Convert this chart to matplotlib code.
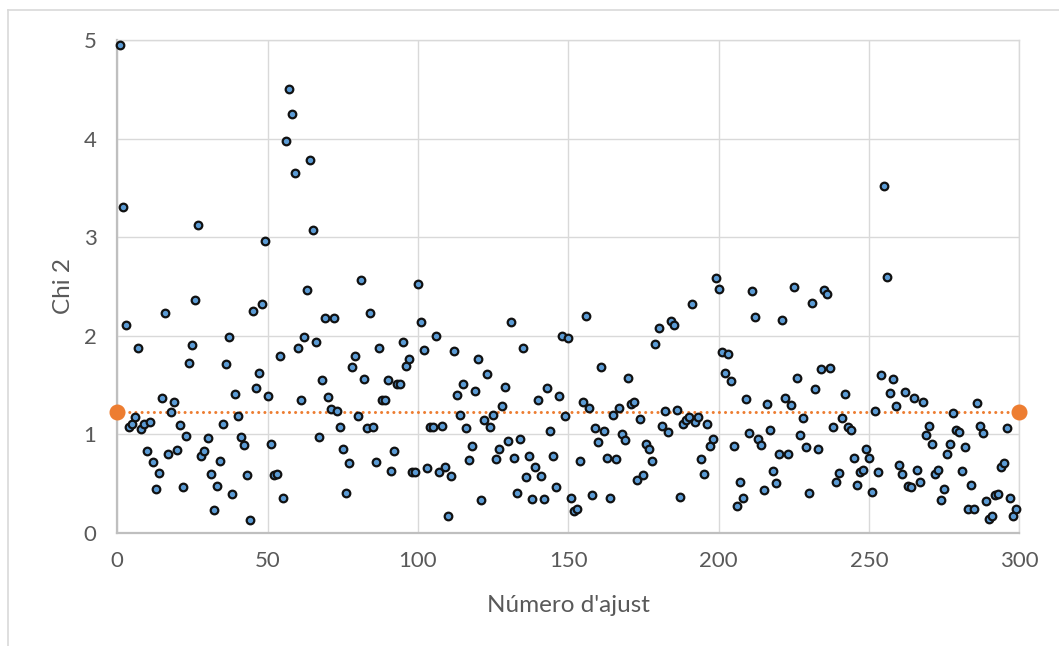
import numpy as np
import matplotlib
matplotlib.use("Agg")
import matplotlib.pyplot as plt
from matplotlib.lines import Line2D

plt.rcParams['font.family'] = ['Lato', 'DejaVu Sans']

# chi2 per fit (fits 1..299)
chi2 = [
    4.95, 3.31, 2.11, 1.08, 1.11, 1.18, 1.88, 1.05, 1.11, 0.83,
    1.13, 0.72, 0.45, 0.61, 1.37, 2.23, 0.80, 1.23, 1.33, 0.84,
    1.10, 0.47, 0.98, 1.72, 1.91, 2.36, 3.12, 0.78, 0.83, 0.96,
    0.60, 0.23, 0.48, 0.73, 1.11, 1.71, 1.99, 0.40, 1.41, 1.19,
    0.97, 0.89, 0.59, 0.13, 2.25, 1.47, 1.62, 2.32, 2.96, 1.39,
    0.90, 0.59, 0.60, 1.80, 0.36, 3.98, 4.50, 4.25, 3.65, 1.88,
    1.35, 1.99, 2.46, 3.78, 3.07, 1.94, 0.97, 1.55, 2.18, 1.38,
    1.26, 2.18, 1.24, 1.07, 0.85, 0.41, 0.71, 1.68, 1.80, 1.19,
    2.57, 1.56, 1.06, 2.23, 1.07, 0.72, 1.88, 1.35, 1.35, 1.55,
    0.63, 0.83, 1.51, 1.51, 1.94, 1.69, 1.76, 0.62, 0.62, 2.53,
    2.14, 1.86, 0.66, 1.08, 1.07, 2.00, 0.62, 1.09, 0.67, 0.17,
    0.58, 1.85, 1.40, 1.20, 1.51, 1.06, 0.74, 0.88, 1.44, 1.76,
    0.33, 1.15, 1.61, 1.08, 1.20, 0.75, 0.85, 1.29, 1.48, 0.93,
    2.14, 0.76, 0.41, 0.95, 1.88, 0.57, 0.78, 0.34, 0.67, 1.35,
    0.58, 0.34, 1.47, 1.03, 0.78, 0.47, 1.39, 2.00, 1.19, 1.98,
    0.35, 0.22, 0.24, 0.73, 1.33, 2.20, 1.27, 0.39, 1.06, 0.92,
    1.68, 1.03, 0.76, 0.35, 1.20, 0.75, 1.27, 1.00, 0.94, 1.57,
    1.31, 1.33, 0.54, 1.16, 0.59, 0.90, 0.85, 0.73, 1.92, 2.08,
    1.09, 1.24, 1.02, 2.15, 2.11, 1.25, 0.37, 1.11, 1.15, 1.18,
    2.32, 1.13, 1.18, 0.75, 0.60, 1.11, 0.88, 0.95, 2.59, 2.47,
    1.84, 1.62, 1.82, 1.54, 0.88, 0.27, 0.52, 0.36, 1.36, 1.01,
    2.45, 2.19, 0.95, 0.89, 0.44, 1.31, 1.04, 0.63, 0.51, 0.80,
    2.16, 1.37, 0.80, 1.30, 2.49, 1.57, 0.99, 1.17, 0.87, 0.41,
    2.33, 1.46, 0.85, 1.66, 2.46, 2.42, 1.67, 1.07, 0.52, 0.61,
    1.17, 1.41, 1.08, 1.04, 0.76, 0.49, 0.62, 0.64, 0.85, 0.76,
    0.42, 1.24, 0.62, 1.60, 3.52, 2.60, 1.42, 1.56, 1.29, 0.69,
    0.60, 1.43, 0.48, 0.47, 1.37, 0.64, 0.52, 1.33, 0.99, 1.09,
    0.90, 0.60, 0.64, 0.33, 0.45, 0.80, 0.90, 1.22, 1.04, 1.02,
    0.63, 0.87, 0.24, 0.49, 0.24, 1.32, 1.09, 1.01, 0.32, 0.14,
    0.17, 0.39, 0.40, 0.67, 0.71, 1.06, 0.36, 0.17, 0.24,
]
fit_num = np.arange(1, len(chi2) + 1)
mean_x = [0, 300]
mean_chi2 = np.mean(chi2)

x_ticks = [0, 50, 100, 150, 200, 250, 300]
y_ticks = [0, 1, 2, 3, 4, 5]

grey_txt = "#595959"
grid_c = "#d9d9d9"

fig = plt.figure(figsize=(10.59, 6.46), dpi=100)
ax = fig.add_axes([117.3 / 1059, 1 - 533 / 646, 902 / 1059, 493 / 646])

ax.set_xlim(0, 300)
ax.set_ylim(0, 5)
ax.set_xticks(x_ticks)
ax.set_yticks(y_ticks)
ax.grid(True, color=grid_c, linewidth=1.0, zorder=0)
ax.set_axisbelow(True)

ax.scatter(fit_num, chi2, s=30, facecolor="#5b9bd5", edgecolor="#111111",
           linewidth=1.6, zorder=3, clip_on=False)

# mean line, dotted, with big end markers
ax.plot(mean_x, [mean_chi2, mean_chi2], color="#ed7d31", linewidth=2.2,
        linestyle=(0, (0.01, 2.0)), dash_capstyle="round", zorder=2,
        clip_on=False)
ax.plot(mean_x, [mean_chi2, mean_chi2], linestyle="none", marker="o",
        markersize=10.5, color="#ed7d31", zorder=4, clip_on=False)

for side in ["left", "bottom"]:
    ax.spines[side].set_color("#bfbfbf")
    ax.spines[side].set_linewidth(1.6)
for side in ["top", "right"]:
    ax.spines[side].set_color(grid_c)
    ax.spines[side].set_linewidth(1.0)

ax.tick_params(length=0, labelsize=16, labelcolor=grey_txt)
ax.tick_params(axis="y", pad=15)
ax.tick_params(axis="x", pad=13)
ax.set_xlabel("Número d'ajust", fontsize=17.5, color=grey_txt, labelpad=17)
ax.set_ylabel("Chi 2", fontsize=17.5, color=grey_txt, labelpad=7)

# chart frame (only top and left edges visible in the crop)
fig.add_artist(Line2D([8 / 1059, 1.0], [1 - 10 / 646] * 2, color=grid_c, linewidth=1.2))
fig.add_artist(Line2D([8 / 1059] * 2, [0.0, 1 - 10 / 646], color=grid_c, linewidth=1.2))

fig.savefig("out.png", dpi=100)
